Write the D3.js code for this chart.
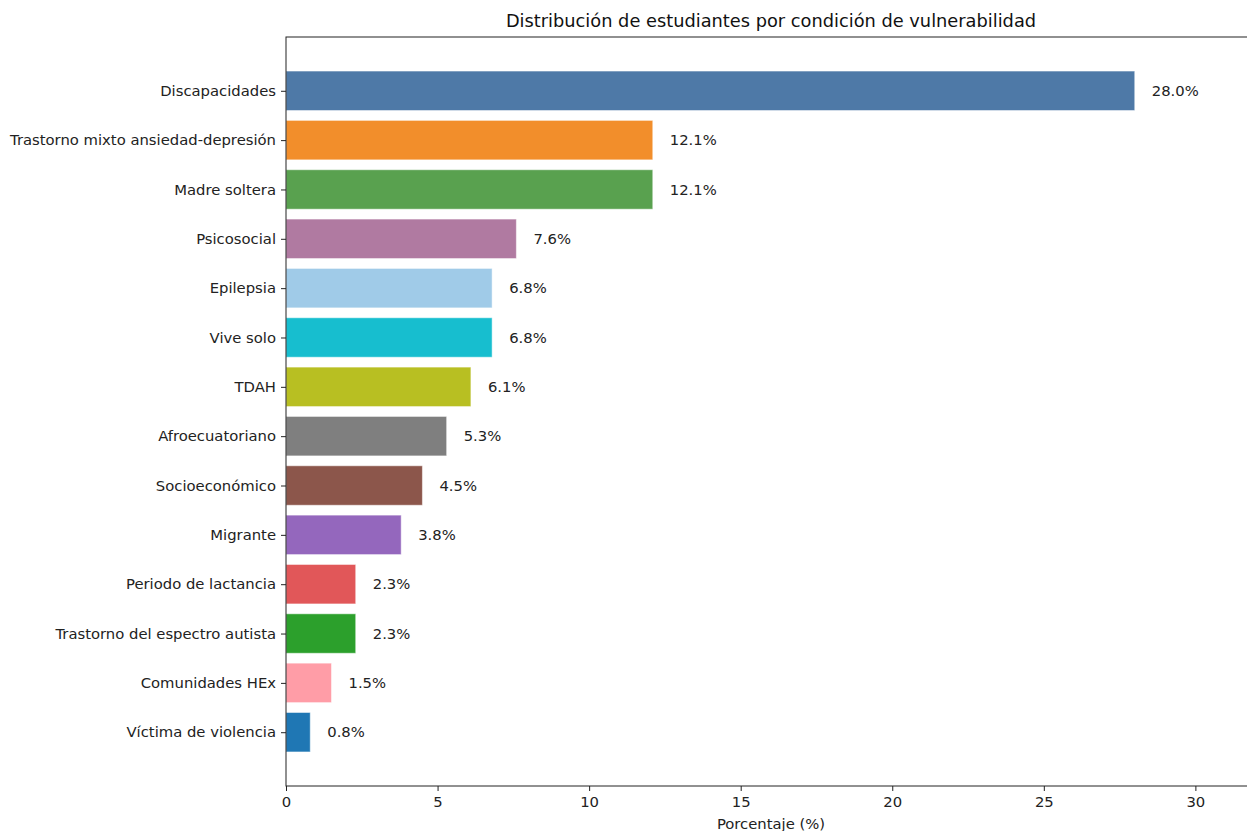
<!DOCTYPE html>
<html>
<head>
<meta charset="utf-8">
<script src="https://cdn.jsdelivr.net/npm/d3@7"></script>
<style>
  html, body { margin: 0; padding: 0; background: #fff; overflow: hidden; }
  svg { display: block; font-family: "DejaVu Sans", sans-serif; }
  svg text { font-family: "DejaVu Sans", sans-serif; }
  .tick text { fill: #222; }
</style>
</head>
<body>
<svg id="chart" width="1247" height="831"></svg>
<script>
// Data
const categories = [
  'Discapacidades', 'Trastorno mixto ansiedad-depresión', 'Madre soltera', 'Psicosocial',
  'Epilepsia', 'Vive solo', 'TDAH', 'Afroecuatoriano', 'Socioeconómico', 'Migrante',
  'Periodo de lactancia', 'Trastorno del espectro autista', 'Comunidades HEx', 'Víctima de violencia'
];
const values = [28.0, 12.1, 12.1, 7.6, 6.8, 6.8, 6.1, 5.3, 4.5, 3.8, 2.3, 2.3, 1.5, 0.8];
const colors = [
  '#4e79a7', '#f28e2b', '#59a14f', '#b07aa1', '#a0cbe8', '#17becf', '#b8bf22',
  '#7f7f7f', '#8c564b', '#9467bd', '#e15759', '#2ca02c', '#ff9da7', '#1f77b4'
];
const xTicks = [0, 5, 10, 15, 20, 25, 30];

const margin = { top: 37, left: 286 };
const width = 970;   // extends past the window on the right like the reference
const height = 749;

const svg = d3.select('#chart');
const chart = svg.append('g').attr('transform', `translate(${margin.left},${margin.top})`);

const x = d3.scaleLinear().domain([0, 32]).range([0, width]);
// matplotlib-like y layout: bars at integer positions with 5% margins
const n = categories.length;
const lo = -0.4 - 0.05 * (n - 0.2), hi = (n - 1) + 0.4 + 0.05 * (n - 0.2);
const y = d3.scaleLinear().domain([lo, hi]).range([0, height]);
const barH = y(0.8) - y(0);

const data = categories.map((c, i) => ({ cat: c, value: values[i], color: colors[i], i }));

chart.selectAll('.bar')
  .data(data)
  .join('rect')
    .attr('class', 'bar')
    .attr('x', x(0))
    .attr('y', d => y(d.i) - barH / 2)
    .attr('width', d => x(d.value) - x(0))
    .attr('height', barH)
    .attr('fill', d => d.color)
    .attr('stroke', '#fff')
    .attr('stroke-opacity', 0.5)
    .attr('stroke-width', 1);

chart.selectAll('.val')
  .data(data)
  .join('text')
    .attr('class', 'val')
    .attr('x', d => x(d.value) + 17)
    .attr('y', d => y(d.i))
    .attr('dy', '0.35em')
    .style('font-size', '14.8px')
    .style('fill', '#222')
    .text(d => d.value.toFixed(1) + '%');

// Axes
const yAxis = d3.axisLeft(y)
  .tickValues(d3.range(n))
  .tickFormat(i => categories[i])
  .tickSize(5)
  .tickPadding(5);
const yAxisG = chart.append('g').call(yAxis).attr('font-family', null);
yAxisG.select('.domain').remove();
yAxisG.selectAll('text').style('font-size', '14.8px');
yAxisG.selectAll('line').attr('stroke', '#222');

const xAxis = d3.axisBottom(x).tickValues(xTicks).tickSize(5).tickPadding(5);
const xAxisG = chart.append('g').attr('transform', `translate(0,${height})`).call(xAxis).attr('font-family', null);
xAxisG.select('.domain').remove();
xAxisG.selectAll('text').style('font-size', '14.8px');
xAxisG.selectAll('line').attr('stroke', '#222');

// Frame (spines)
chart.append('rect')
  .attr('x', 0).attr('y', 0)
  .attr('width', width).attr('height', height)
  .attr('fill', 'none')
  .attr('stroke', '#222')
  .attr('stroke-width', 1);

// Titles
chart.append('text')
  .attr('x', width / 2)
  .attr('y', -10)
  .attr('text-anchor', 'middle')
  .style('font-size', '17.8px')
  .style('fill', '#111')
  .text('Distribución de estudiantes por condición de vulnerabilidad');

chart.append('text')
  .attr('x', width / 2)
  .attr('y', height + 43)
  .attr('text-anchor', 'middle')
  .style('font-size', '14.8px')
  .style('fill', '#222')
  .text('Porcentaje (%)');
</script>
</body>
</html>
